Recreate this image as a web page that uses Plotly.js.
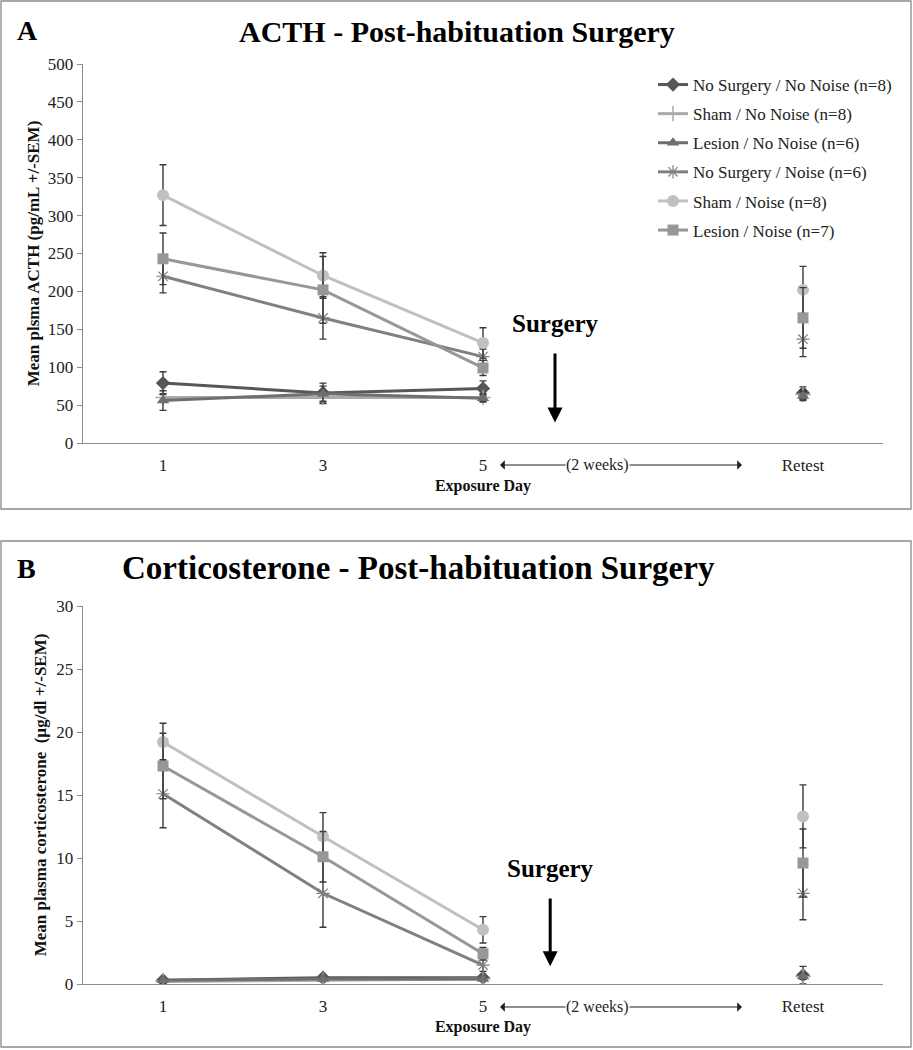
<!DOCTYPE html>
<html>
<head>
<meta charset="utf-8">
<script src="https://cdn.plot.ly/plotly-3.0.1.min.js"></script>
<style>html,body{margin:0;padding:0;background:#fff;}#chart{width:913px;height:1050px;}</style>
</head>
<body>
<div id="chart"></div>
<script>
// Categories (blank category is the 2-week gap between day 5 and retest)
const categories = ['1', '3', '5', ' ', 'Retest'];

const seriesNames = [
  'No Surgery / No Noise (n=8)',
  'Sham / No Noise (n=8)',
  'Lesion / No Noise (n=6)',
  'No Surgery / Noise (n=6)',
  'Sham / Noise (n=8)',
  'Lesion / Noise (n=7)'
];

// Panel A: ACTH (pg/mL) means and SEM
const acthNoSurgNoNoise = [79, 66, 72, null, 66];
const acthNoSurgNoNoiseSem = [15, 13, 10, null, 8];
const acthShamNoNoise = [60, 60, 60, null, 64];
const acthShamNoNoiseSem = [5, 8, 5, null, 6];
const acthLesionNoNoise = [56, 65, 59, null, 62];
const acthLesionNoNoiseSem = [13, 10, 5, null, 6];
const acthNoSurgNoise = [220, 165, 114, null, 137];
const acthNoSurgNoiseSem = [22, 28, 10, null, 23];
const acthShamNoise = [327, 221, 132, null, 202];
const acthShamNoiseSem = [40, 30, 20, null, 31];
const acthLesionNoise = [243, 202, 99, null, 165];
const acthLesionNoiseSem = [34, 44, 10, null, 40];

// Panel B: Corticosterone (µg/dl) means and SEM
const cortNoSurgNoNoise = [0.3, 0.5, 0.5, null, 0.7];
const cortNoSurgNoNoiseSem = [0.1, 0.2, 0.1, null, 0.7];
const cortShamNoNoise = [0.2, 0.3, 0.4, null, 0.6];
const cortShamNoNoiseSem = [0.1, 0.1, 0.1, null, 0.2];
const cortLesionNoNoise = [0.3, 0.4, 0.4, null, 0.6];
const cortLesionNoNoiseSem = [0.1, 0.1, 0.1, null, 0.2];
const cortNoSurgNoise = [15.1, 7.2, 1.5, null, 7.2];
const cortNoSurgNoiseSem = [2.7, 2.7, 0.5, null, 2.1];
const cortShamNoise = [19.2, 11.7, 4.3, null, 13.3];
const cortShamNoiseSem = [1.5, 1.9, 1.05, null, 2.5];
const cortLesionNoise = [17.3, 10.1, 2.4, null, 9.6];
const cortLesionNoiseSem = [2.6, 2.0, 0.5, null, 2.7];

const acthValues = [acthNoSurgNoNoise, acthShamNoNoise, acthLesionNoNoise, acthNoSurgNoise, acthShamNoise, acthLesionNoise];
const acthSems = [acthNoSurgNoNoiseSem, acthShamNoNoiseSem, acthLesionNoNoiseSem, acthNoSurgNoiseSem, acthShamNoiseSem, acthLesionNoiseSem];
const cortValues = [cortNoSurgNoNoise, cortShamNoNoise, cortLesionNoNoise, cortNoSurgNoise, cortShamNoise, cortLesionNoise];
const cortSems = [cortNoSurgNoNoiseSem, cortShamNoNoiseSem, cortLesionNoNoiseSem, cortNoSurgNoiseSem, cortShamNoiseSem, cortLesionNoiseSem];

// Styles
const lineColors = ['#575757', '#a9a9a9', '#6f6f6f', '#808080', '#c0c0c0', '#979797'];
const markerStyles = [
  {symbol: 'diamond', size: 11, color: '#575757'},
  {symbol: 'cross-thin-open', size: 11, color: '#a9a9a9', line: {color: '#a9a9a9', width: 1.5}},
  {symbol: 'triangle-up', size: 11, color: '#6f6f6f'},
  {symbol: 'asterisk-open', size: 11, color: '#808080', line: {color: '#808080', width: 1.2}},
  {symbol: 'circle', size: 12, color: '#c0c0c0'},
  {symbol: 'square', size: 11, color: '#979797'}
];

const serif = 'Liberation Serif, Times New Roman, serif';
const traces = [];
function addPanel(values, sems, xa, ya, showLegend) {
  values.forEach((v, i) => {
    traces.push({
      type: 'scatter', mode: 'lines+markers',
      x: categories, y: v,
      xaxis: xa, yaxis: ya,
      name: seriesNames[i],
      legendgroup: 'g' + i,
      showlegend: showLegend,
      connectgaps: false,
      line: {color: lineColors[i], width: 3},
      marker: markerStyles[i],
      error_y: {type: 'data', array: sems[i], visible: true, color: '#3a3a3a', thickness: 1.4, width: 3.5}
    });
  });
}
addPanel(acthValues, acthSems, 'x', 'y', true);
addPanel(cortValues, cortSems, 'x2', 'y2', false);

const W = 913, H = 1050;
const px = v => v / W;
const py = v => 1 - v / H;

const axisFont = {family: serif, size: 17, color: '#222'};
const titleFont = {family: serif, size: 17, color: '#111', weight: 'bold'};
const xBase = {
  type: 'category', categoryorder: 'array', categoryarray: categories,
  range: [-0.5, 4.5], showline: true, linecolor: '#8c8c8c', linewidth: 1.3,
  ticks: '', showgrid: false, zeroline: false, tickfont: axisFont,
  ticklabelstandoff: 6,
  title: {text: 'Exposure Day', font: {family: serif, size: 16, color: '#111', weight: 'bold'}, standoff: 6}
};
const yBase = {
  showline: true, linecolor: '#8c8c8c', linewidth: 1.3, ticks: 'outside', ticklen: 5,
  tickcolor: '#8c8c8c', showgrid: false, zeroline: false, tickfont: axisFont
};

function hArrow(xHead, xTail, yPix) {
  return {text: '', xref: 'paper', yref: 'paper', axref: 'pixel', ayref: 'pixel',
    x: px(xHead), y: py(yPix), ax: xTail - xHead, ay: 0,
    showarrow: true, arrowhead: 1, arrowsize: 1.6, arrowwidth: 1, arrowcolor: '#222'};
}
function label(text, xPix, yPix, size) {
  return {text: text, xref: 'paper', yref: 'paper', x: px(xPix), y: py(yPix),
    xanchor: 'center', yanchor: 'middle', showarrow: false,
    font: {family: serif, size: size, color: '#000'}};
}

const layout = {
  width: W, height: H,
  margin: {l: 0, r: 0, t: 0, b: 0},
  paper_bgcolor: '#fff', plot_bgcolor: '#fff',
  showlegend: true,
  legend: {
    x: px(653), y: py(67), xanchor: 'left', yanchor: 'top',
    font: {family: serif, size: 17, color: '#222'},
    bgcolor: 'rgba(0,0,0,0)', tracegroupgap: 4, itemwidth: 30
  },
  xaxis: Object.assign({}, xBase, {domain: [px(83), px(883)], anchor: 'y'}),
  yaxis: Object.assign({}, yBase, {domain: [py(443), py(64)], range: [0, 500], dtick: 50, anchor: 'x',
    title: {text: 'Mean plsma ACTH (pg/mL +/-SEM)', font: titleFont, standoff: 3}}),
  xaxis2: Object.assign({}, xBase, {domain: [px(83), px(883)], anchor: 'y2'}),
  yaxis2: Object.assign({}, yBase, {domain: [py(984), py(606)], range: [0, 30], dtick: 5, anchor: 'x2',
    title: {text: 'Mean plasma corticosterone  (µg/dl +/-SEM)', font: titleFont, standoff: 5}}),
  shapes: [
    {type: 'rect', xref: 'paper', yref: 'paper', x0: px(1), x1: px(911), y0: py(509), y1: py(1), line: {color: '#8a8a8a', width: 1.3}},
    {type: 'rect', xref: 'paper', yref: 'paper', x0: px(1), x1: px(911), y0: py(1047), y1: py(541), line: {color: '#8a8a8a', width: 1.3}}
  ],
  annotations: [
    label('<b>A</b>', 27, 31, 28),
    label('<b>ACTH - Post-habituation Surgery</b>', 457, 32, 30),
    label('<b>B</b>', 26, 568, 28),
    label('<b>Corticosterone - Post-habituation Surgery</b>', 418, 568, 33),
    // Surgery markers
    {text: '<b>Surgery</b>', xref: 'x', yref: 'y', x: 2.45, y: 158, xanchor: 'center', yanchor: 'middle', showarrow: false, font: {family: serif, size: 25, color: '#000'}},
    {text: '', xref: 'x', yref: 'y', axref: 'x', ayref: 'y', x: 2.45, y: 27, ax: 2.45, ay: 120, showarrow: true, arrowhead: 2, arrowsize: 1, arrowwidth: 3, arrowcolor: '#000'},
    {text: '<b>Surgery</b>', xref: 'x2', yref: 'y2', x: 2.42, y: 9.2, xanchor: 'center', yanchor: 'middle', showarrow: false, font: {family: serif, size: 25, color: '#000'}},
    {text: '', xref: 'x2', yref: 'y2', axref: 'x2', ayref: 'y2', x: 2.42, y: 1.4, ax: 2.42, ay: 6.9, showarrow: true, arrowhead: 2, arrowsize: 1, arrowwidth: 3, arrowcolor: '#000'},
    // (2 weeks) labels and arrows
    Object.assign(label('(2 weeks)', 597, 465, 16), {font: {family: serif, size: 16, color: '#222'}}),
    hArrow(500, 567, 465),
    hArrow(742, 628, 465),
    Object.assign(label('(2 weeks)', 597, 1007, 16), {font: {family: serif, size: 16, color: '#222'}}),
    hArrow(500, 567, 1007),
    hArrow(742, 628, 1007)
  ]
};

Plotly.newPlot('chart', traces, layout, {displayModeBar: false, staticPlot: true});
</script>
</body>
</html>
